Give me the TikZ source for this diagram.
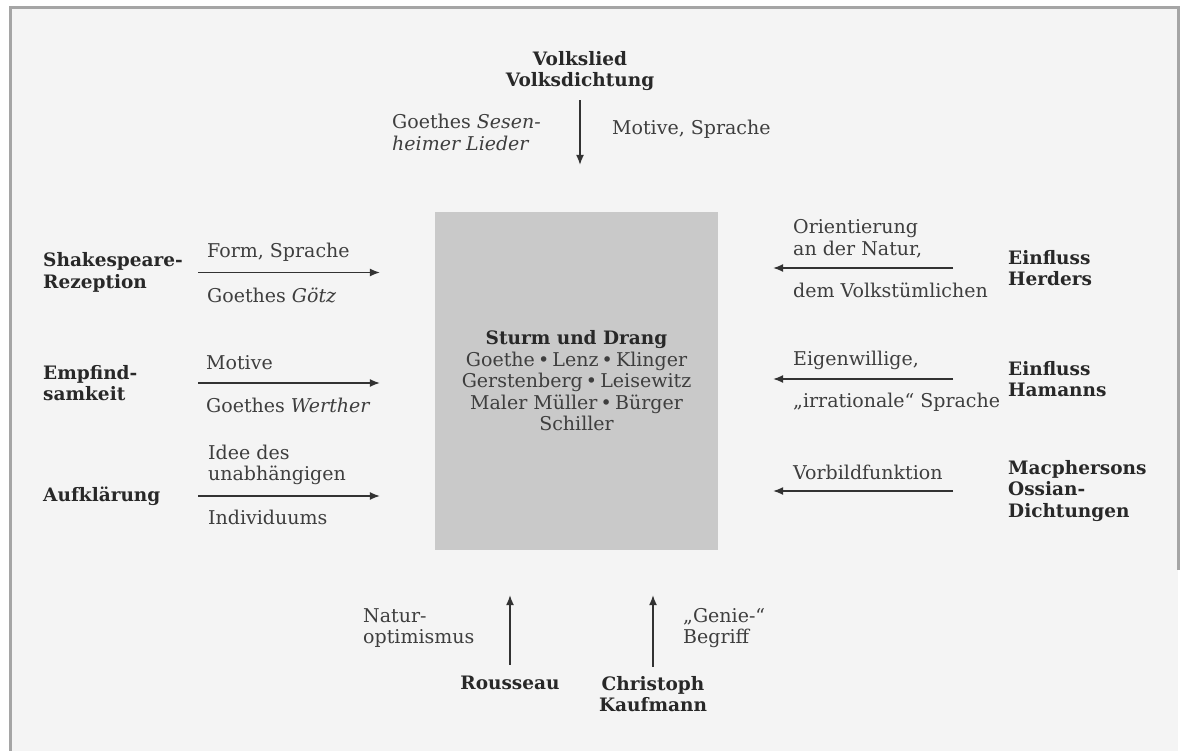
\documentclass[tikz,border=0pt]{standalone}
\usepackage{fontspec}
\setmainfont{DejaVu Serif}
\usetikzlibrary{arrows.meta}
\definecolor{boxgray}{RGB}{201,201,201}
\definecolor{paper}{RGB}{244,244,244}
\definecolor{framegray}{RGB}{165,165,165}
\definecolor{ink}{RGB}{62,62,62}
\definecolor{inkbold}{RGB}{40,40,40}
\definecolor{arrowink}{RGB}{50,50,50}
\tikzset{
  lbl/.style={inner sep=0pt, text=ink, font=\fontsize{19}{21.5}\selectfont, align=left, anchor=west},
  srcleft/.style={inner sep=0pt, text=inkbold, font=\bfseries\fontsize{18.5}{21.5}\selectfont, align=left, anchor=west, text width=152pt},
  srcright/.style={inner sep=0pt, text=inkbold, font=\bfseries\fontsize{18.5}{21.5}\selectfont, align=left, anchor=west},
  srccenter/.style={inner sep=0pt, text=inkbold, font=\bfseries\fontsize{18.5}{21.5}\selectfont, align=center},
  centerbox/.style={fill=boxgray, draw=none, minimum width=283pt, minimum height=338pt, inner sep=0pt, text=ink, align=center, font=\fontsize{19}{21.5}\selectfont},
  arr/.style={draw=arrowink, line width=1.3pt, -{Latex[length=10pt,width=8pt]}}
}
\begin{document}
\begin{tikzpicture}[x=1pt,y=-1pt]
\useasboundingbox (0,0) rectangle (1183,751);
% paper and scan frame
\fill[white] (0,0) rectangle (1183,751);
\fill[paper] (10,8) rectangle (1178,751);
\draw[framegray, line width=3pt] (10,751) -- (10,8) -- (1178,8) -- (1178,570);

% central box
\node[centerbox] (box) at (576.5,381) {{\bfseries\fontsize{18.5}{21.5}\selectfont\color{inkbold}Sturm und Drang}\\
Goethe\,•\,Lenz\,•\,Klinger\\
Gerstenberg\,•\,Leisewitz\\
Maler Müller\,•\,Bürger\\
Schiller};

% top
\node[srccenter] (volk) at (580,71) {Volkslied\\Volksdichtung};
\draw[arr, shorten <=9pt, shorten >=47pt] (volk.south) -- (box.north -| volk.south);
\node[lbl] (sesen) at (392,132.5) {Goethes \textit{Sesen-}\\\textit{heimer Lieder}};
\node[lbl] (motsp) at (612,129) {Motive, Sprache};

% left sources
\node[srcleft] (shak) at (43,272.5) {Shakespeare-\\Rezeption};
\node[srcleft] (empf) at (43,383) {Empfind-\\samkeit};
\node[srcleft] (aufk) at (43,496) {Aufklärung};
\draw[arr, shorten <=3pt, shorten >=55pt] (shak.east) -- (shak.east -| box.west);
\draw[arr, shorten <=3pt, shorten >=55pt] (empf.east) -- (empf.east -| box.west);
\draw[arr, shorten <=3pt, shorten >=55pt] (aufk.east) -- (aufk.east -| box.west);
\node[lbl] (formsp) at (207,252) {Form, Sprache};
\node[lbl] (goetz) at (207,295) {Goethes \textit{Götz}};
\node[lbl] (motive) at (206,363) {Motive};
\node[lbl] (werther) at (206,405) {Goethes \textit{Werther}};
\node[lbl] (idee) at (208,465) {Idee des\\unabhängigen};
\node[lbl] (indiv) at (208,517) {Individuums};

% right sources
\node[srcright] (herder) at (1008,268) {Einfluss\\Herders};
\node[srcright] (hamann) at (1008,379) {Einfluss\\Hamanns};
\node[srcright] (macph) at (1008,491) {Macphersons\\Ossian-\\Dichtungen};
\draw[arr, shorten <=55pt, shorten >=55pt] (herder.west) -- (herder.west -| box.east);
\draw[arr, shorten <=55pt, shorten >=55pt] (hamann.west) -- (hamann.west -| box.east);
\draw[arr, shorten <=55pt, shorten >=55pt] (macph.west) -- (macph.west -| box.east);
\node[lbl] (orient) at (793,238.5) {Orientierung\\an der Natur,};
\node[lbl] (volkst) at (793,290) {dem Volkstümlichen};
\node[lbl] (eigen) at (793,360) {Eigenwillige,};
\node[lbl] (irrat) at (793,402) {„irrationale“ Sprache};
\node[lbl] (vorbild) at (793,472) {Vorbildfunktion};

% bottom sources
\node[srccenter] (rous) at (510,683) {Rousseau};
\node[srccenter] (kauf) at (653,694) {Christoph\\Kaufmann};
\draw[arr, shorten <=11pt, shorten >=45pt] (rous.north) -- (rous.north |- box.south);
\draw[arr, shorten <=9pt, shorten >=45pt] (kauf.north) -- (kauf.north |- box.south);
\node[lbl] (natur) at (363,628) {Natur-\\optimismus};
\node[lbl] (genie) at (683,628) {„Genie-“\\Begriff};
\end{tikzpicture}
\end{document}
